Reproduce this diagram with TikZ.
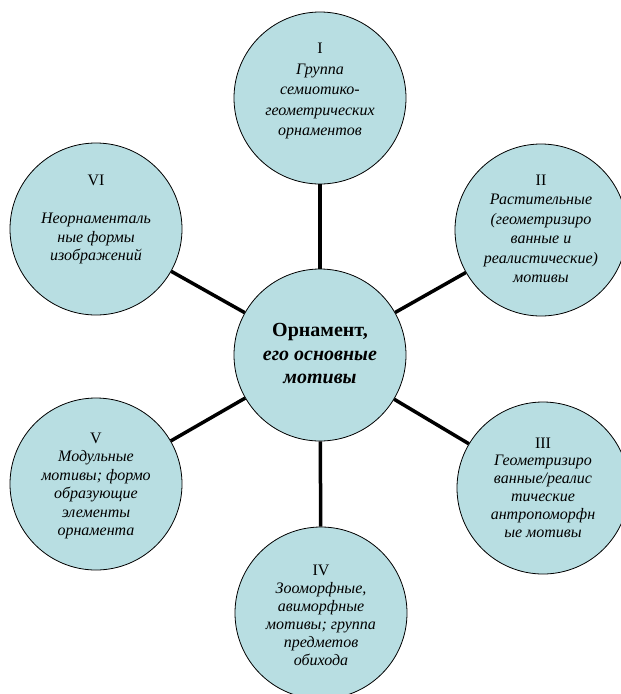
\documentclass[tikz,border=0pt]{standalone}
\usepackage{fontspec}
\setmainfont{Liberation Serif}
\definecolor{discfill}{RGB}{184,222,226}

\tikzset{
  disc/.style={circle, draw=black, line width=0.8pt, fill=discfill, minimum size=172pt, inner sep=0pt},
  spoke/.style={line width=3.5pt},
  lbl/.style={align=center, font=\fontsize{16}{18.5}\selectfont\itshape}
}

\begin{document}
\begin{tikzpicture}[x=1pt,y=-1pt]
  \useasboundingbox (0,0) rectangle (621,694);

  % circles
  \node[disc] (c) at (320,355) {};
  \node[disc] (n1) at (320,98) {};
  \node[disc] (n2) at (541,230) {};
  \node[disc] (n3) at (543,488) {};
  \node[disc] (n4) at (321,613) {};
  \node[disc] (n5) at (96,484) {};
  \node[disc] (n6) at (96,229) {};

  % spokes
  \foreach \n in {n1,n2,n3,n4,n5,n6}
    \draw[spoke] (c) -- (\n);

  % texts
  \node[lbl, font=\fontsize{20}{23.5}\selectfont\bfseries\itshape] (tc) at (320,353.5)
    {{\upshape Орнамент,}\\его основные\\мотивы};
  \node[lbl, font=\fontsize{16}{20.5}\selectfont\itshape] (t1) at (320,91)
    {{\upshape I}\\Группа\\семиотико-\\геометрических\\орнаментов};
  \node[lbl, font=\fontsize{16}{19.5}\selectfont\itshape] (t2) at (541,229)
    {{\upshape II}\\Растительные\\(геометризиро\\ванные и\\реалистические)\\мотивы};
  \node[lbl, font=\fontsize{16}{17.8}\selectfont\itshape] (t3) at (543,487.5)
    {{\upshape III}\\Геометризиро\\ванные/реалис\\тические\\антропоморфн\\ые мотивы};
  \node[lbl, font=\fontsize{16}{18}\selectfont\itshape] (t4) at (321,615)
    {{\upshape IV}\\Зооморфные,\\авиморфные\\мотивы; группа\\предметов\\обихода};
  \node[lbl] (t5) at (96,486)
    {{\upshape V}\\Модульные\\мотивы; формо\\образующие\\элементы\\орнамента};
  \node[lbl] (t6) at (96,219.5)
    {{\upshape VI}\\[19.5pt]Неорнаменталь\\ные формы\\изображений};
\end{tikzpicture}
\end{document}
